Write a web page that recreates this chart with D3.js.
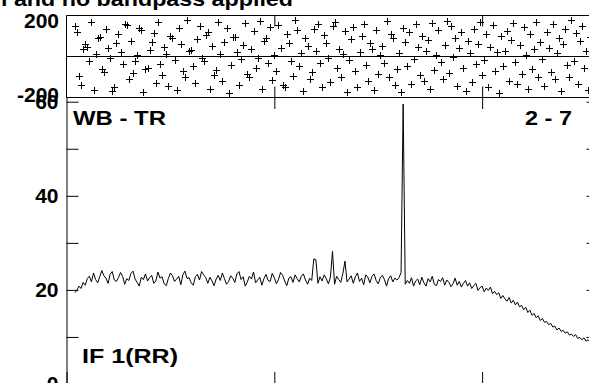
<!DOCTYPE html>
<html><head><meta charset="utf-8">
<script src="https://cdn.jsdelivr.net/npm/d3@7"></script>
<style>html,body{margin:0;padding:0;background:#fff;overflow:hidden}
text{font-family:"Liberation Sans",Arial,Helvetica,sans-serif;font-weight:bold;fill:#000}</style>
</head><body>
<svg id="c" width="589" height="383"></svg>
<script>
// ---- data ----
const titleText = "l and no bandpass applied";
const baselineLabel = "WB - TR";
const baselineNumbers = "2 - 7";
const ifLabel = "IF 1(RR)";
const firstChannel = 4;
const phaseValues = [
 150,120,-95,-140,35,60,48,-20,170,-165,10,88,
 95,-60,-75,132,40,-5,-170,-150,64,110,22,-38,
 160,155,-110,78,-82,-20,5,140,128,-175,-60,-55,
 30,72,115,-128,168,-35,-88,45,12,-145,100,92,
 -15,-162,138,60,-70,-100,178,25,33,-48,-130,84,
 148,-8,-22,105,118,-157,52,-90,-66,170,12,-120,
 70,140,-178,-40,96,96,20,-140,-12,58,163,-83,
 -100,35,124,-55,-5,175,-160,77,89,-30,145,-115,
 6,-70,155,40,-138,-150,112,65,-20,-95,178,130,
 -45,18,-168,92,50,-112,-78,135,28,160,-32,-150,
 104,64,-5,-125,150,170,-58,38,-98,10,122,-172,
 -18,83,142,-70,-150,22,100,158,-42,-118,68,35,
 -165,128,-85,5,52,-30,175,-100,110,88,-140,-62,
 15,-175,140,70,-48,118,-132,-10,160,45,-90,100,
 -120,25,80,-160,165,-65,8,130,-28,-108,57,172,
 -80,148,-3,90,-145,40,120,-55,-168,75,15,-125,
 135,-38,62,170,-92,-15,108,-150,45,152,-72,20,
 -178,98,-48,28,125,-118,80,162,-25,-135,55,-85,
 145,5,-160,112,-60,38,170,-98,70,-12,-142,118,
 42,-75,158,-110,18,90,-170,60,132,-40,-100,176,
 -20,115,-135,75,150,-58,25,-165,95,140,-88,48
];
const amplitudeValues = [
 19.4,19.9,20.8,20.3,21.6,21.0,22.4,22.9,21.7,23.6,22.2,21.5,
 22.8,24.1,23.0,22.5,21.4,23.3,23.9,22.1,21.8,22.6,23.7,22.9,
 21.2,22.4,22.0,23.5,24.0,22.3,21.6,20.8,22.7,22.2,23.4,21.9,
 22.6,23.1,21.4,21.9,23.8,22.5,22.8,21.3,20.9,22.4,23.6,23.0,
 21.8,22.3,22.9,21.1,23.2,24.0,22.4,22.6,21.5,21.0,22.8,23.3,
 22.1,23.9,23.2,22.6,21.4,22.7,21.9,20.9,22.3,23.1,22.0,23.6,
 22.4,21.2,21.8,23.0,22.5,21.6,23.4,23.9,22.2,22.8,20.8,21.7,
 22.9,22.3,23.8,21.5,22.1,22.7,21.0,22.4,23.3,22.0,21.8,23.5,
 22.6,21.3,22.2,23.7,23.1,21.9,20.9,22.5,22.8,21.6,23.2,22.4,
 21.7,22.9,23.4,22.1,21.2,22.5,22.0,26.6,26.4,21.4,22.8,21.9,
 23.2,22.4,21.3,22.7,28.2,21.2,22.9,22.2,21.6,23.5,26.1,21.7,
 22.3,23.0,21.4,22.8,23.6,21.8,22.5,21.1,23.2,22.7,21.5,22.9,
 23.4,22.0,21.3,22.6,23.1,22.2,20.8,22.4,23.0,21.7,22.5,22.1,
 22.6,23.7,59.5,21.2,22.0,21.4,22.6,20.8,21.9,22.3,21.1,22.7,
 21.5,20.8,22.4,21.7,22.9,21.2,20.9,22.2,21.8,22.6,21.0,22.1,
 21.6,20.7,21.3,22.5,21.0,21.8,20.6,21.4,22.0,20.8,21.5,20.3,
 20.9,21.4,19.9,20.5,20.8,19.6,20.4,19.9,20.6,19.2,19.7,19.0,
 19.4,18.2,18.8,18.1,17.6,18.4,17.2,17.8,16.8,17.4,16.4,16.7,
 15.8,16.3,15.2,15.7,14.6,15.0,14.1,14.5,13.5,13.9,13.1,13.3,
 12.6,12.9,12.1,12.3,11.5,11.9,11.2,11.4,10.8,11.1,10.4,10.6,
 10.1,10.5,9.7,9.9,9.4,9.8,9.1,9.4,8.9,9.2,8.7,8.9
];
const channels = amplitudeValues.map((d, i) => firstChannel + i);
const channelDomain = [0, 256];
const channelTicks = [100, 200];
const ampDomain = [0, 61];
const ampTicks = [0, 10, 20, 30, 40, 50, 60];
const ampTickLabels = {0: "0", 20: "20", 40: "40", 60: "60"};
const phaseDomain = [-200, 200];
const phaseTickLabels = [200, -200];

// ---- layout ----
const svg = d3.select("#c");
const x = d3.scaleLinear().domain(channelDomain).range([66.5, 598.5]);
const yAmp = d3.scaleLinear().domain(ampDomain).range([384, 97]);
const yPh = d3.scaleLinear().domain(phaseDomain).range([97.5, 15.5]);

// title
svg.append("text").attr("x", 1).attr("y", 6).attr("font-size", 21)
  .attr("textLength", 292).attr("lengthAdjust", "spacingAndGlyphs").text(titleText);

// ---- phase panel ----
const ph = svg.append("g");
[200, 0, -200].forEach(v => {
  ph.append("line").attr("x1", x(0)).attr("x2", x(256)).attr("y1", yPh(v)).attr("y2", yPh(v))
    .attr("stroke", "#000").attr("stroke-width", 1);
});
ph.append("line").attr("x1", x(0)).attr("x2", x(0)).attr("y1", yPh(200)).attr("y2", yPh(-200))
  .attr("stroke", "#000");
ph.append("g").attr("transform", `translate(0,${yPh(200)})`)
  .call(d3.axisBottom(x).tickValues(channelTicks).tickSize(11).tickFormat(""))
  .call(g => g.select(".domain").remove());
ph.append("g").attr("transform", `translate(0,${yPh(-200)})`)
  .call(d3.axisTop(x).tickValues(channelTicks).tickSize(11).tickFormat(""))
  .call(g => g.select(".domain").remove());
ph.selectAll("path.cross").data(phaseValues).join("path").attr("class", "cross")
  .attr("d", (d, i) => {
    const cx = Math.round(x(channels[i])) + 0.5, cy = Math.round(yPh(d)) + 0.5;
    return `M${cx - 3.5},${cy}h7M${cx},${cy - 3.5}v7`;
  })
  .attr("stroke", "#000").attr("stroke-width", 1).attr("fill", "none");
ph.append("text").attr("x", 59).attr("y", yPh(200) + 12).attr("text-anchor", "end")
  .attr("font-size", 21).text(phaseTickLabels[0]);
ph.append("text").attr("x", 59).attr("y", yPh(-200) + 4.5).attr("text-anchor", "end")
  .attr("font-size", 21).text(phaseTickLabels[1]);

// ---- amplitude panel ----
const amp = svg.append("g");
amp.append("g").attr("transform", `translate(${x(0)},0)`)
  .call(d3.axisLeft(yAmp).tickValues(ampTicks).tickSizeInner(-12).tickSizeOuter(0).tickPadding(8)
    .tickFormat(d => ampTickLabels[d] || ""))
  .call(g => g.selectAll("text").attr("font-size", 21).attr("font-family", null))
  .call(g => g.selectAll("line,path").attr("stroke", "#000"));
amp.append("g").attr("transform", `translate(${x(256)},0)`)
  .call(d3.axisRight(yAmp).tickValues(ampTicks).tickSizeInner(-12).tickSizeOuter(0).tickFormat(""));
amp.append("g").attr("transform", `translate(0,${yAmp(ampDomain[1])})`)
  .call(d3.axisBottom(x).tickValues(channelTicks).tickSize(12).tickFormat(""))
  .call(g => g.select(".domain").remove());
amp.append("g").attr("transform", `translate(0,${yAmp(0)})`)
  .call(d3.axisTop(x).tickValues(channelTicks).tickSize(12).tickFormat(""));

const line = d3.line().x((d, i) => x(channels[i])).y(d => yAmp(d));
amp.append("path").datum(amplitudeValues).attr("d", line)
  .attr("fill", "none").attr("stroke", "#000").attr("stroke-width", 1);

amp.append("text").attr("x", 73).attr("y", 125).attr("font-size", 21)
  .attr("textLength", 93).attr("lengthAdjust", "spacingAndGlyphs").text(baselineLabel);
amp.append("text").attr("x", 525).attr("y", 125).attr("font-size", 21)
  .attr("textLength", 47).attr("lengthAdjust", "spacingAndGlyphs").text(baselineNumbers);
amp.append("text").attr("x", 82).attr("y", 363).attr("font-size", 21)
  .attr("textLength", 96).attr("lengthAdjust", "spacingAndGlyphs").text(ifLabel);
</script>
</body></html>
